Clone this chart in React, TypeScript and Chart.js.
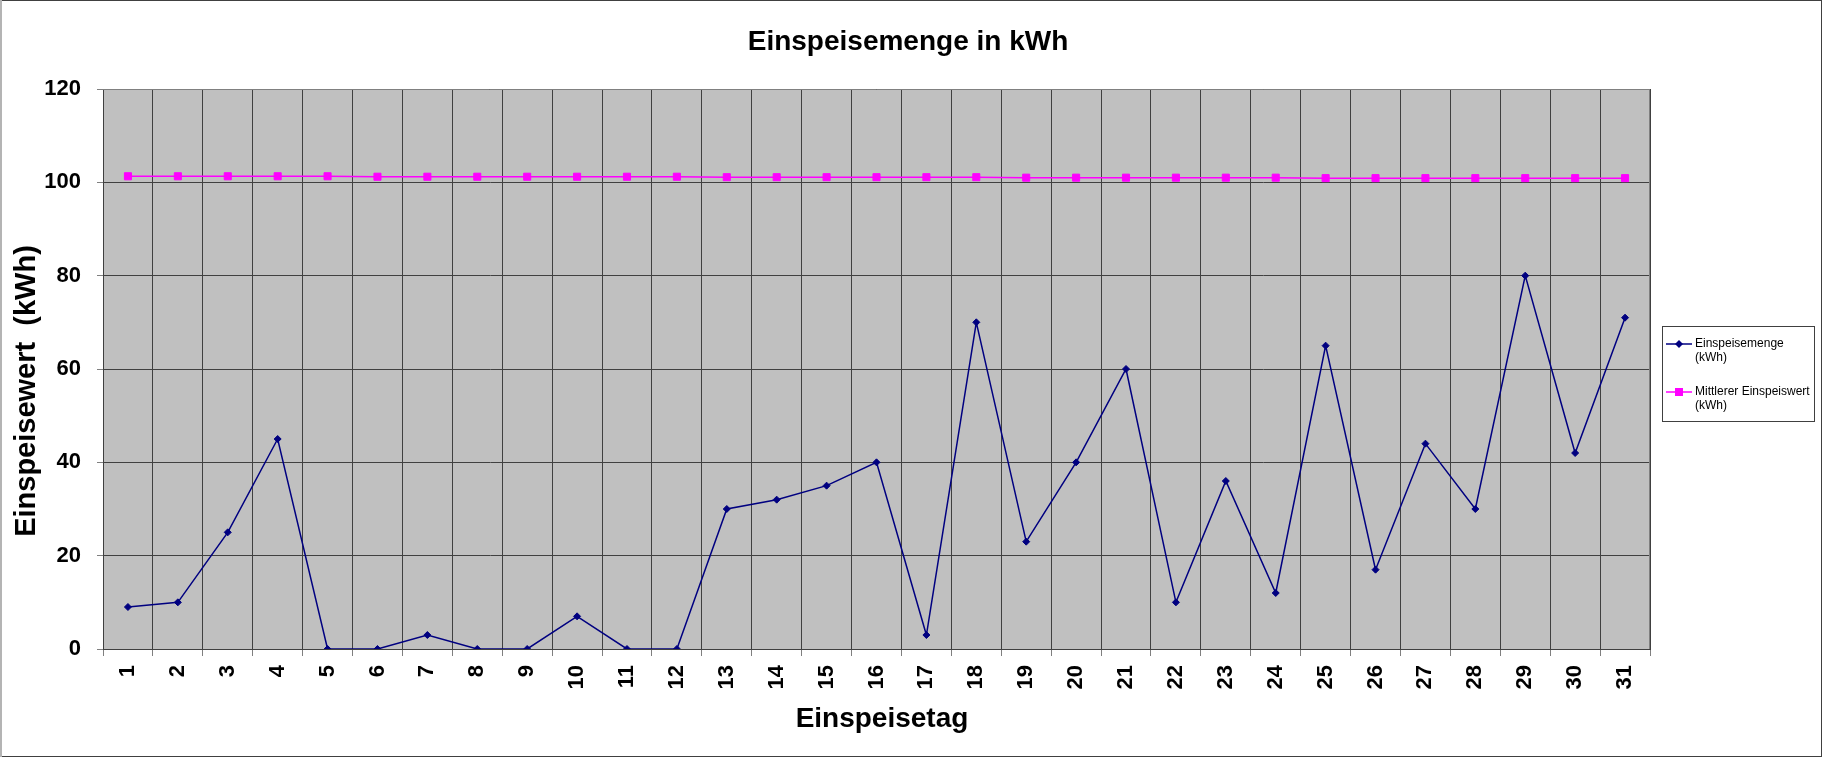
import React, { useEffect, useRef } from 'react';
import { Chart, registerables } from 'chart.js';

Chart.register(...registerables);

const FONT = '"Liberation Sans", Arial, Helvetica, sans-serif';

const chartTitle = 'Einspeisemenge in kWh';
const xTitle = 'Einspeisetag';
const yTitle = 'Einspeisewert  (kWh)';

const days = ['1','2','3','4','5','6','7','8','9','10','11','12','13','14','15','16','17','18','19','20','21','22','23','24','25','26','27','28','29','30','31'];

const einspeisemenge = [9, 10, 25, 45, 0, 0, 3, 0, 0, 7, 0, 0, 30, 32, 35, 40, 3, 70, 23, 40, 60, 10, 36, 12, 65, 17, 44, 30, 80, 42, 71];

const mittlererWert = [101.3, 101.3, 101.3, 101.3, 101.3, 101.2, 101.2, 101.2, 101.2, 101.2, 101.2, 101.2, 101.1, 101.1, 101.1, 101.1, 101.1, 101.1, 101.0, 101.0, 101.0, 101.0, 101.0, 101.0, 100.9, 100.9, 100.9, 100.9, 100.9, 100.9, 100.9];

const yMin = 0;
const yMax = 120;
const yStep = 20;

const seriesLabels = ['Einspeisemenge (kWh)', 'Mittlerer Einspeiswert (kWh)'];

const decorPlugin = {
  id: 'decor',
  beforeDraw(chart: any) {
    const { ctx, chartArea } = chart;
    ctx.save();
    ctx.fillStyle = '#ffffff';
    ctx.fillRect(0, 0, chart.width, chart.height);
    ctx.fillStyle = '#C0C0C0';
    ctx.fillRect(chartArea.left, chartArea.top, chartArea.right - chartArea.left, chartArea.bottom - chartArea.top);
    ctx.restore();
  },
  beforeDatasetsDraw(chart: any) {
    const { ctx, chartArea } = chart;
    ctx.save();
    ctx.strokeStyle = '#808080';
    ctx.lineWidth = 1;
    ctx.beginPath();
    ctx.moveTo(chartArea.left, Math.round(chartArea.top) + 0.5);
    ctx.lineTo(chartArea.right, Math.round(chartArea.top) + 0.5);
    ctx.moveTo(Math.round(chartArea.right) - 0.5, chartArea.top);
    ctx.lineTo(Math.round(chartArea.right) - 0.5, chartArea.bottom);
    ctx.stroke();
    ctx.restore();
  },
  afterDraw(chart: any) {
    const { ctx } = chart;
    ctx.save();
    ctx.fillStyle = '#000';
    ctx.textAlign = 'center';
    ctx.textBaseline = 'middle';
    // chart title
    ctx.font = `bold 28px ${FONT}`;
    ctx.fillText(chartTitle, 908, 42);
    // x axis title
    ctx.font = `bold 28px ${FONT}`;
    ctx.fillText(xTitle, 882, 719);
    // y axis title
    ctx.save();
    ctx.translate(27, 391);
    ctx.rotate(-Math.PI / 2);
    ctx.font = `bold 29px ${FONT}`;
    ctx.fillText(yTitle, 0, 0);
    ctx.restore();

    // legend
    const lx = 1662, ly = 326, lw = 152, lh = 95;
    ctx.strokeStyle = '#404040';
    ctx.lineWidth = 1;
    ctx.strokeRect(lx + 0.5, ly + 0.5, lw, lh);
    const rowY = [344, 392];
    chart.data.datasets.forEach((ds: any, i: number) => {
      const y = rowY[i];
      ctx.strokeStyle = ds.borderColor;
      ctx.lineWidth = 1.5;
      ctx.beginPath();
      ctx.moveTo(1666, y);
      ctx.lineTo(1692, y);
      ctx.stroke();
      ctx.fillStyle = ds.borderColor;
      ctx.beginPath();
      if (ds.pointStyle === 'rectRot') {
        ctx.moveTo(1679, y - 4);
        ctx.lineTo(1683, y);
        ctx.lineTo(1679, y + 4);
        ctx.lineTo(1675, y);
        ctx.closePath();
      } else {
        ctx.rect(1675, y - 4, 8, 8);
      }
      ctx.fill();
      const parts = String(ds.label).split(' (');
      const lines = parts.length > 1 ? [parts[0], '(' + parts.slice(1).join(' (')] : parts;
      ctx.fillStyle = '#000';
      ctx.font = `12px ${FONT}`;
      ctx.textAlign = 'left';
      ctx.textBaseline = 'middle';
      lines.forEach((t: string, k: number) => ctx.fillText(t, 1695, y + k * 14));
    });

    // outer frame
    ctx.fillStyle = '#404040';
    ctx.fillRect(0, 0, chart.width, 1);
    ctx.fillRect(0, chart.height - 1, chart.width, 1);
    ctx.fillRect(chart.width - 1, 0, 1, chart.height);
    ctx.fillStyle = '#b4b4b4';
    ctx.fillRect(0, 0, 2, chart.height);
    ctx.restore();
  },
};

export default function App() {
  const ref = useRef<HTMLCanvasElement | null>(null);

  useEffect(() => {
    if (!ref.current) return;
    Chart.defaults.font.family = FONT;
    const chart = new Chart(ref.current, {
      type: 'line',
      data: {
        labels: days,
        datasets: [
          {
            label: seriesLabels[0],
            data: einspeisemenge,
            borderColor: '#000080',
            backgroundColor: '#000080',
            borderWidth: 1.5,
            pointStyle: 'rectRot',
            pointRadius: 3.5,
            pointBorderWidth: 1,
            pointBackgroundColor: '#000080',
            pointBorderColor: '#000080',
            tension: 0,
            fill: false,
          },
          {
            label: seriesLabels[1],
            data: mittlererWert,
            borderColor: '#FF00FF',
            backgroundColor: '#FF00FF',
            borderWidth: 1.5,
            pointStyle: 'rect',
            pointRadius: 5,
            pointBorderWidth: 1,
            pointBackgroundColor: '#FF00FF',
            pointBorderColor: '#FF00FF',
            tension: 0,
            fill: false,
          },
        ],
      } as any,
      options: {
        responsive: false,
        animation: false,
        devicePixelRatio: 1,
        layout: { padding: { top: 89, right: 172, bottom: 0, left: 0 } },
        plugins: {
          legend: { display: false },
          title: { display: false },
          tooltip: { enabled: false },
        },
        scales: {
          x: {
            type: 'category',
            offset: true,
            grid: { offset: true, color: '#404040', lineWidth: 1, tickLength: 7, tickColor: '#808080', drawTicks: true },
            border: { display: true, color: '#404040' },
            ticks: {
              autoSkip: false,
              maxRotation: 90,
              minRotation: 90,
              padding: 9,
              color: '#000',
              font: { family: FONT, size: 22, weight: 'bold' },
            },
            title: { display: false },
            afterFit: (s: any) => { s.height = 108; },
          },
          y: {
            min: yMin,
            max: yMax,
            grid: { color: '#404040', lineWidth: 1, tickLength: 6, tickColor: '#808080', drawTicks: true },
            border: { display: true, color: '#404040' },
            ticks: {
              stepSize: yStep,
              padding: 16,
              color: '#000',
              font: { family: FONT, size: 22, weight: 'bold' },
            },
            title: { display: false },
            afterFit: (s: any) => { s.width = 103; },
          },
        },
      } as any,
      plugins: [decorPlugin],
    });
    return () => chart.destroy();
  }, []);

  return (
    <div style={{ position: 'absolute', left: 0, top: 0, width: 1822, height: 757 }}>
      <canvas ref={ref} width={1822} height={757} style={{ display: 'block' }} />
    </div>
  );
}
